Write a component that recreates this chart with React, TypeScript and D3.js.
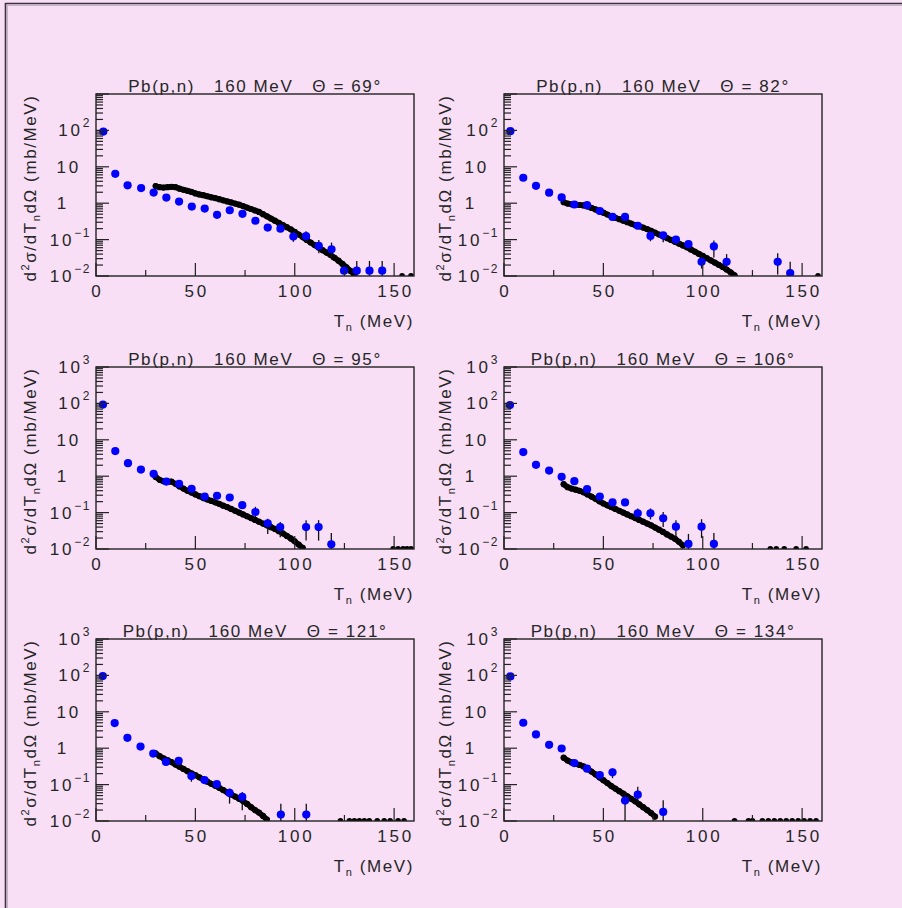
import React from "react";
import * as d3 from "d3";

const W = 902;
const H = 908;

// ---------- data ----------
const angles = [69, 82, 95, 106, 121, 134];

// 69 deg
const blueT_69 = [3.7, 9.7, 15.9, 22.7, 29.0, 35.4, 41.8, 48.2, 54.7, 60.9, 67.3, 73.7, 80.2, 86.4, 92.8, 99.3, 105.7, 112.1, 118.5, 124.8, 131.2, 137.6, 144.0];
const blueV_69 = [93, 6.4, 3.1, 2.6, 1.96, 1.43, 1.11, 0.81, 0.71, 0.48, 0.64, 0.51, 0.33, 0.214, 0.2, 0.121, 0.124, 0.067, 0.054, 0.014, 0.014, 0.014, 0.014];
const errT_69 = [99.3, 105.7, 112.1, 118.5, 131.2, 137.6, 144.0];
const errLo_69 = [0.087, 0.087, 0.042, 0.028, 0.005, 0.005, 0.005];
const errHi_69 = [0.166, 0.17, 0.098, 0.083, 0.026, 0.026, 0.026];
const blackT_69 = [30, 32, 34, 36, 38, 40, 42, 44, 46, 48, 50, 52, 54, 56, 58, 60, 62, 64, 66, 68, 70, 72, 74, 76, 78, 80, 82, 84, 86, 88, 90, 92, 94, 96, 98, 100, 102, 104, 106, 108, 110, 112, 114, 116, 118, 120, 122, 124, 126, 128, 130];
const blackV_69 = [2.95, 2.75, 2.69, 2.75, 2.82, 2.75, 2.51, 2.34, 2.19, 2.04, 1.86, 1.74, 1.66, 1.55, 1.45, 1.38, 1.29, 1.2, 1.12, 1.05, 0.977, 0.912, 0.832, 0.759, 0.692, 0.631, 0.575, 0.501, 0.437, 0.38, 0.331, 0.288, 0.251, 0.219, 0.191, 0.162, 0.138, 0.117, 0.0977, 0.0832, 0.0708, 0.0603, 0.0513, 0.0437, 0.038, 0.0316, 0.0263, 0.0214, 0.0174, 0.0138, 0.011];
const floorT_69 = [154, 158.5];

// 82 deg
const blueT_82 = [3.2, 9.7, 16.1, 22.7, 29.0, 35.4, 41.8, 48.2, 54.6, 60.9, 67.3, 73.7, 80.1, 86.5, 92.8, 99.4, 105.6, 112.0, 137.7, 144.0];
const blueV_82 = [95, 5.0, 3.0, 1.94, 1.44, 0.92, 0.88, 0.61, 0.42, 0.42, 0.24, 0.126, 0.131, 0.1, 0.075, 0.0245, 0.065, 0.0245, 0.0245, 0.012];
const errT_82 = [73.7, 80.1, 86.5, 92.8, 99.4, 105.6, 112.0, 137.7, 144.0];
const errLo_82 = [0.09, 0.085, 0.075, 0.055, 0.016, 0.032, 0.0155, 0.011, 0.005];
const errHi_82 = [0.16, 0.16, 0.125, 0.095, 0.036, 0.095, 0.04, 0.042, 0.0245];
const blackT_82 = [30, 32, 34, 36, 38, 40, 42, 44, 46, 48, 50, 52, 54, 56, 58, 60, 62, 64, 66, 68, 70, 72, 74, 76, 78, 80, 82, 84, 86, 88, 90, 92, 94, 96, 98, 100, 102, 104, 106, 108, 110, 112, 114, 116];
const blackV_82 = [1.07, 0.977, 0.933, 0.912, 0.891, 0.871, 0.813, 0.741, 0.676, 0.603, 0.55, 0.49, 0.437, 0.398, 0.363, 0.331, 0.302, 0.275, 0.251, 0.234, 0.214, 0.195, 0.174, 0.155, 0.138, 0.123, 0.11, 0.0977, 0.0871, 0.0776, 0.0692, 0.0617, 0.0537, 0.0468, 0.0407, 0.0355, 0.0309, 0.0269, 0.0234, 0.0204, 0.0178, 0.0151, 0.0126, 0.0105];
const floorT_82 = [158];

// 95 deg
const blueT_95 = [3.5, 9.7, 16.1, 22.6, 29.0, 35.4, 41.8, 48.1, 54.7, 60.9, 67.3, 73.6, 80.2, 86.4, 92.7, 105.7, 112.0, 118.4];
const blueV_95 = [93, 4.9, 2.28, 1.52, 1.16, 0.71, 0.62, 0.45, 0.275, 0.29, 0.26, 0.16, 0.104, 0.051, 0.04, 0.04, 0.04, 0.0134];
const errT_95 = [80.2, 86.4, 92.7, 105.7, 112.0, 118.4];
const errLo_95 = [0.076, 0.026, 0.021, 0.017, 0.017, 0.006];
const errHi_95 = [0.144, 0.068, 0.055, 0.062, 0.062, 0.0275];
const blackT_95 = [30, 32, 34, 36, 38, 40, 42, 44, 46, 48, 50, 52, 54, 56, 58, 60, 62, 64, 66, 68, 70, 72, 74, 76, 78, 80, 82, 84, 86, 88, 90, 92, 94, 96, 98, 100, 102, 104];
const blackV_95 = [0.955, 0.794, 0.724, 0.708, 0.708, 0.617, 0.525, 0.457, 0.398, 0.355, 0.316, 0.282, 0.251, 0.229, 0.209, 0.191, 0.174, 0.155, 0.141, 0.126, 0.112, 0.1, 0.0891, 0.0794, 0.0708, 0.0631, 0.0562, 0.0501, 0.0447, 0.0398, 0.0355, 0.0309, 0.0269, 0.0229, 0.0195, 0.0162, 0.0132, 0.0107];
const floorT_95 = [149.5, 152, 154.5, 156.5, 158.5];

// 106 deg
const blueT_106 = [3.0, 9.7, 16.1, 22.7, 29.0, 35.4, 41.8, 48.2, 54.6, 60.9, 67.3, 73.7, 80.1, 86.5, 92.8, 99.4, 105.6];
const blueV_106 = [90, 4.6, 2.05, 1.43, 0.96, 0.73, 0.44, 0.276, 0.19, 0.19, 0.096, 0.096, 0.07, 0.041, 0.0138, 0.041, 0.0138];
const errT_106 = [67.3, 73.7, 80.1, 86.5, 92.8, 99.4, 105.6];
const errLo_106 = [0.076, 0.065, 0.04, 0.021, 0.006, 0.02, 0.006];
const errHi_106 = [0.129, 0.13, 0.104, 0.062, 0.026, 0.066, 0.0275];
const blackT_106 = [30, 32, 34, 36, 38, 40, 42, 44, 46, 48, 50, 52, 54, 56, 58, 60, 62, 64, 66, 68, 70, 72, 74, 76, 78, 80, 82, 84, 86, 88, 90];
const blackV_106 = [0.603, 0.501, 0.457, 0.427, 0.398, 0.363, 0.316, 0.275, 0.24, 0.204, 0.178, 0.158, 0.141, 0.126, 0.112, 0.1, 0.0891, 0.0794, 0.0708, 0.0631, 0.0562, 0.0501, 0.0447, 0.0389, 0.0339, 0.0295, 0.0251, 0.0219, 0.0191, 0.0158, 0.0126];
const floorT_106 = [134, 137, 141, 147, 152];

// 121 deg
const blueT_121 = [3.4, 9.4, 15.8, 22.4, 28.8, 35.2, 41.6, 48.0, 54.6, 60.8, 67.2, 73.6, 93.0, 105.8];
const blueV_121 = [96, 4.9, 1.93, 1.11, 0.71, 0.42, 0.45, 0.172, 0.133, 0.103, 0.059, 0.046, 0.015, 0.015];
const errT_121 = [48.0, 67.2, 73.6, 93.0, 105.8];
const errLo_121 = [0.12, 0.03, 0.0197, 0.006, 0.006];
const errHi_121 = [0.226, 0.078, 0.063, 0.03, 0.03];
const blackT_121 = [30, 32, 34, 36, 38, 40, 42, 44, 46, 48, 50, 52, 54, 56, 58, 60, 62, 64, 66, 68, 70, 72, 74, 76, 78, 80, 82, 84, 86];
const blackV_121 = [0.724, 0.603, 0.525, 0.468, 0.417, 0.355, 0.309, 0.269, 0.234, 0.204, 0.182, 0.158, 0.138, 0.12, 0.105, 0.0933, 0.0813, 0.0708, 0.0617, 0.0537, 0.0468, 0.0407, 0.0355, 0.0295, 0.024, 0.02, 0.017, 0.0138, 0.011];
const floorT_121 = [123, 127.5, 130, 132.5, 135, 137.5, 141.5, 145, 148, 152, 155];

// 134 deg
const blueT_134 = [3.2, 9.7, 16.1, 22.7, 29.0, 35.4, 41.8, 48.2, 54.6, 60.9, 67.3, 80.1];
const blueV_134 = [94, 5.0, 2.39, 1.24, 0.98, 0.39, 0.274, 0.183, 0.217, 0.0365, 0.053, 0.0177];
const errT_134 = [48.2, 54.6, 60.9, 67.3, 80.1];
const errLo_134 = [0.148, 0.15, 0.01, 0.0335, 0.006];
const errHi_134 = [0.226, 0.28, 0.057, 0.087, 0.037];
const blackT_134 = [30, 32, 34, 36, 38, 40, 42, 44, 46, 48, 50, 52, 54, 56, 58, 60, 62, 64, 66, 68, 70, 72, 74, 76];
const blackV_134 = [0.55, 0.457, 0.407, 0.372, 0.347, 0.316, 0.269, 0.229, 0.191, 0.158, 0.132, 0.11, 0.0912, 0.0776, 0.0661, 0.0562, 0.0479, 0.0407, 0.0347, 0.0288, 0.024, 0.02, 0.0166, 0.0132];
const floorT_134 = [116, 123, 125, 130, 133, 136, 139, 142, 145, 148, 151, 154, 157];

const floorLevel = 0.0101;

const xDomain = [0, 160];
const yDomain = [0.01, 1000];
const xMajorTicks = [0, 50, 100, 150];
const xMinorTicks = [25, 75, 125];
const yLabels = [
  { v: 0.01, base: "10", exp: "\u22122" },
  { v: 0.1, base: "10", exp: "\u22121" },
  { v: 1, base: "1", exp: "" },
  { v: 10, base: "10", exp: "" },
  { v: 100, base: "10", exp: "2" },
  { v: 1000, base: "10", exp: "3" },
];

const panels = [
  { angle: angles[0], bT: blueT_69, bV: blueV_69, eT: errT_69, eLo: errLo_69, eHi: errHi_69, kT: blackT_69, kV: blackV_69, fT: floorT_69 },
  { angle: angles[1], bT: blueT_82, bV: blueV_82, eT: errT_82, eLo: errLo_82, eHi: errHi_82, kT: blackT_82, kV: blackV_82, fT: floorT_82 },
  { angle: angles[2], bT: blueT_95, bV: blueV_95, eT: errT_95, eLo: errLo_95, eHi: errHi_95, kT: blackT_95, kV: blackV_95, fT: floorT_95 },
  { angle: angles[3], bT: blueT_106, bV: blueV_106, eT: errT_106, eLo: errLo_106, eHi: errHi_106, kT: blackT_106, kV: blackV_106, fT: floorT_106 },
  { angle: angles[4], bT: blueT_121, bV: blueV_121, eT: errT_121, eLo: errLo_121, eHi: errHi_121, kT: blackT_121, kV: blackV_121, fT: floorT_121 },
  { angle: angles[5], bT: blueT_134, bV: blueV_134, eT: errT_134, eLo: errLo_134, eHi: errHi_134, kT: blackT_134, kV: blackV_134, fT: floorT_134 },
];

// ---------- layout ----------
const colLeft = [96, 504];
const rowTop = [94, 367, 639];
const plotW = 318;
const plotH = 182;
const yLabelX = [36, 451];

const FONT = "'Liberation Sans', Arial, Helvetica, sans-serif";
const TXT = "#262626";
const LS = 1.6;

function Panel({ idx }: { idx: number }) {
  const p = panels[idx];
  const col = idx % 2;
  const row = Math.floor(idx / 2);
  const left = colLeft[col];
  const top = rowTop[row];
  const bottom = top + plotH;
  const right = left + plotW;
  const x = d3.scaleLinear().domain(xDomain).range([left, right]);
  const y = d3.scaleLog().domain(yDomain).range([bottom, top]);
  const clipId = `clip-${idx}`;

  const black = p.kT.map((t, i) => [t, p.kV[i]] as [number, number]);
  const line = d3
    .line<[number, number]>()
    .x((d) => x(d[0]))
    .y((d) => y(d[1]));

  const isDecade = (v: number) => {
    const l = Math.log10(v);
    return Math.abs(l - Math.round(l)) <= 1e-6;
  };
  const minorY = y.ticks().filter((v) => !isDecade(v));
  const majorY = y.ticks().filter((v) => isDecade(v));

  const textStyle: React.CSSProperties = {
    fontFamily: FONT,
    fontSize: 17,
    letterSpacing: LS,
    fill: TXT,
  };
  const tickStyle: React.CSSProperties = { ...textStyle, letterSpacing: 2.8 };

  return (
    <g>
      <defs>
        <clipPath id={clipId}>
          <rect x={left} y={top} width={plotW} height={plotH} />
        </clipPath>
      </defs>

      {/* title */}
      <text
        x={(left + right) / 2}
        y={top - 2}
        textAnchor="middle"
        style={{ ...textStyle, whiteSpace: "pre" }}
      >
        {`Pb(p,n)   160 MeV   \u0398 = ${p.angle}\u00b0`}
      </text>

      {/* data */}
      <g clipPath={`url(#${clipId})`}>
        <path
          d={line(black) || ""}
          fill="none"
          stroke="#000"
          strokeWidth={5.6}
          strokeLinejoin="round"
          strokeLinecap="round"
        />
        {black.map((d, i) => (
          <circle key={`k${i}`} cx={x(d[0])} cy={y(d[1])} r={3.1} fill="#000" />
        ))}
        {p.fT.map((t, i) => (
          <circle key={`f${i}`} cx={x(t)} cy={y(floorLevel)} r={2.8} fill="#000" />
        ))}
        {p.eT.map((t, i) => (
          <line
            key={`e${i}`}
            x1={x(t)}
            x2={x(t)}
            y1={y(p.eLo[i])}
            y2={y(p.eHi[i])}
            stroke="#111"
            strokeWidth={1.3}
          />
        ))}
        {p.bT.map((t, i) => (
          <circle key={`b${i}`} cx={x(t)} cy={y(p.bV[i])} r={4.1} fill="#0000ff" />
        ))}
      </g>

      {/* ticks */}
      {minorY.map((v, i) => (
        <line key={`my${i}`} x1={left} x2={left + 7} y1={y(v)} y2={y(v)} stroke="#222" strokeWidth={1.2} />
      ))}
      {majorY.map((v, i) => (
        <line key={`My${i}`} x1={left} x2={left + 13} y1={y(v)} y2={y(v)} stroke="#222" strokeWidth={1.2} />
      ))}
      {xMinorTicks.map((t, i) => (
        <line key={`mx${i}`} x1={x(t)} x2={x(t)} y1={bottom} y2={bottom - 6} stroke="#222" strokeWidth={1.2} />
      ))}
      {xMajorTicks.map((t, i) => (
        <line key={`Mx${i}`} x1={x(t)} x2={x(t)} y1={bottom} y2={bottom - 13} stroke="#222" strokeWidth={1.2} />
      ))}

      {/* frame */}
      <rect x={left} y={top} width={plotW} height={plotH} fill="none" stroke="#222" strokeWidth={1.4} />

      {/* x tick labels */}
      {xMajorTicks.map((t, i) => (
        <text key={`xl${i}`} x={x(t) + 1.4} y={bottom + 21} textAnchor="middle" style={tickStyle}>
          {String(t)}
        </text>
      ))}

      {/* y tick labels */}
      {yLabels
        .filter((l) => !(row === 0 && l.v === 1000))
        .map((l, i) => {
          const ex = l.exp !== "";
          const endX = ex ? left - 5 : l.base === "10" ? left - 15 : left - 27;
          return (
            <text key={`yl${i}`} x={endX} y={y(l.v) + 6} textAnchor="end" style={tickStyle}>
              {l.base}
              {ex && (
                <tspan dy={-9} style={{ fontSize: 12, letterSpacing: 1.5 }}>
                  {l.exp}
                </tspan>
              )}
            </text>
          );
        })}

      {/* x axis label */}
      <text x={right} y={bottom + 51} textAnchor="end" style={textStyle}>
        T
        <tspan dy={4} style={{ fontSize: 11 }}>n</tspan>
        <tspan dy={-4}> (MeV)</tspan>
      </text>

      {/* y axis label */}
      <text
        transform={`translate(${yLabelX[col]},${(top + bottom) / 2 + 3}) rotate(-90)`}
        textAnchor="middle"
        style={textStyle}
      >
        d
        <tspan dy={-7} style={{ fontSize: 11 }}>2</tspan>
        <tspan dy={7}>{"\u03c3/dT"}</tspan>
        <tspan dy={4} style={{ fontSize: 11 }}>n</tspan>
        <tspan dy={-4}>{"d\u03a9 (mb/MeV)"}</tspan>
      </text>
    </g>
  );
}

export default function App() {
  return (
    <div style={{ position: "absolute", left: 0, top: 0, width: W, height: H }}>
      <svg width={W} height={H} viewBox={`0 0 ${W} ${H}`} style={{ display: "block" }}>
        <rect x={0} y={0} width={W} height={H} fill="#f8dff6" />
        <path d={`M5.5,${H} V3.5 H${W}`} fill="none" stroke="#3c3040" strokeWidth={1.6} />
        <path d={`M7.3,${H} V5.3 H${W}`} fill="none" stroke="#a898a8" strokeWidth={0.8} />
        {panels.map((_, i) => (
          <Panel key={i} idx={i} />
        ))}
      </svg>
    </div>
  );
}
